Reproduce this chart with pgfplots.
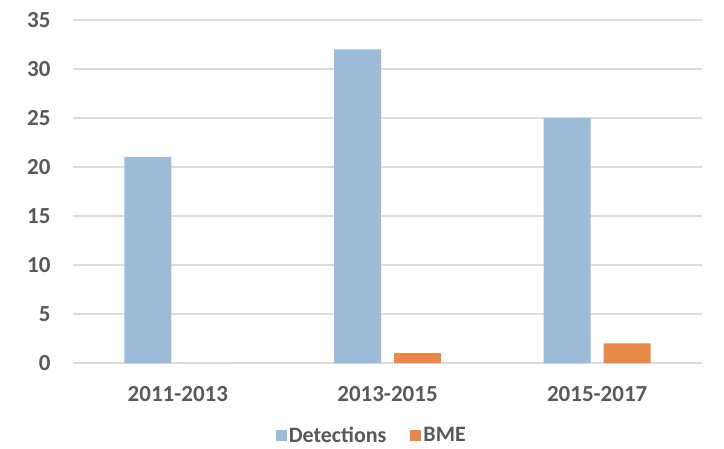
\documentclass[border=0pt]{standalone}
\usepackage{pgfplots}
\pgfplotsset{compat=1.18}
\usepackage{fontspec}
\setmainfont{Carlito}
\definecolor{detblue}{HTML}{9BBBD9}
\definecolor{bmeorange}{HTML}{E8894C}
\definecolor{txtgray}{HTML}{595959}
\definecolor{gridgray}{HTML}{DCDCDC}
\begin{document}
\begin{tikzpicture}[x=1pt,y=1pt]
\path[use as bounding box] (-73,-85) rectangle (651,363);
\begin{axis}[
  at={(0,0)}, anchor=south west,
  scale only axis, width=629pt, height=343pt,
  xmin=-0.5, xmax=2.5, ymin=0, ymax=35,
  ytick={0,5,...,35},
  xtick={0,1,2},
  xticklabels={2011-2013,2013-2015,2015-2017},
  /pgf/number format/assume math mode=true,
  ticklabel style={font=\fontsize{23}{23}\selectfont\bfseries, text=txtgray},
  xticklabel style={yshift=-20pt},
  yticklabel style={xshift=-19pt},
  axis line style={draw=none},
  tick style={draw=none},
  ymajorgrids, major grid style={color=gridgray, line width=1.2pt},
  legend style={at={(0.475,-0.21)}, anchor=center, draw=none,
    font=\fontsize{22}{22}\selectfont\bfseries, text=txtgray,
    legend columns=2, /tikz/every even column/.append style={column sep=22pt}},
  legend image code/.code={\fill[#1] (0pt,-5.5pt) rectangle (11pt,5.5pt);},
]
\addplot[ybar, bar width=0.224, bar shift=-0.143, fill=detblue, draw=none] coordinates {(0,21) (1,32) (2,25)};
\addplot[ybar, bar width=0.224, bar shift=0.143, fill=bmeorange, draw=none] coordinates {(0,0) (1,1) (2,2)};
\legend{Detections, BME}
\end{axis}
\end{tikzpicture}
\end{document}
